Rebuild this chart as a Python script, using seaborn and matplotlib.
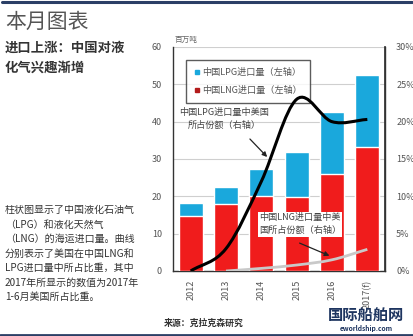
import matplotlib
matplotlib.use("Agg")
import matplotlib.pyplot as plt
import seaborn as sns
import numpy as np
import pandas as pd
from matplotlib.path import Path
from matplotlib.patches import PathPatch, Rectangle
from matplotlib.lines import Line2D
from matplotlib.ticker import PercentFormatter

# ---- data ----
years = ["2012", "2013", "2014", "2015", "2016", "2017(f)"]
lng_import = [14.8, 18.0, 20.0, 19.8, 26.0, 33.3]       # 百万吨
lpg_import = [3.5, 4.5, 7.2, 12.2, 16.5, 19.2]          # 百万吨
us_share_lpg = [0.0, 3.0, 12.0, 23.0, 20.0, 20.3]       # %
us_share_lng = [None, 0.0, 0.35, 0.8, 1.5, 2.9]          # %
left_ticks = [0, 10, 20, 30, 40, 50, 60]
right_ticks = [0, 5, 10, 15, 20, 25, 30]

sns.set_theme(style="white")
plt.rcParams['font.family'] = ['Noto Sans CJK SC', 'DejaVu Sans']

BLUE = "#1aa8dc"
RED = "#f01c1c"
NAVY = "#2b3f66"
GRID = "#cfcfcf"
TXT = "#555555"

W, H = 414, 336
fig = plt.figure(figsize=(W / 100, H / 100), dpi=100)
fig.patch.set_facecolor("white")

def fx(px):
    return px / W

def fy(py):
    return 1 - py / H

ax = fig.add_axes([fx(173), fy(271), fx(385) - fx(173), fy(47) - fy(271)])

df = pd.DataFrame({"year": years, "lng": lng_import, "lpg": lpg_import})
df["total"] = df["lng"] + df["lpg"]

sns.barplot(data=df, x="year", y="total", color=BLUE, saturation=1, width=0.68, ax=ax, zorder=2)
sns.barplot(data=df, x="year", y="lng", color=RED, saturation=1, width=0.68, ax=ax, zorder=3)

ax.set_xlim(-0.5, 5.5)
ax.set_ylim(0, 60)
ax.set_yticks(left_ticks)
ax.set_ylabel("")
ax.set_xlabel("")
ax.yaxis.grid(True, color=GRID, linewidth=0.8, zorder=0)
ax.set_axisbelow(True)
ax.tick_params(axis="y", labelsize=6.5, colors=TXT, length=0, pad=8)
ax.tick_params(axis="x", labelsize=6.5, colors=TXT, length=0, rotation=90, pad=6)
ax.spines["top"].set_visible(False)
for s in ["left", "right", "bottom"]:
    ax.spines[s].set_color("#333333")
    ax.spines[s].set_linewidth(1.0)

ax2 = ax.twinx()
ax2.set_ylim(0, 30)
ax2.set_yticks(right_ticks)
ax2.yaxis.set_major_formatter(PercentFormatter(decimals=0))
ax2.tick_params(axis="y", labelsize=6.5, colors=TXT, length=0, pad=8)
ax2.spines["top"].set_visible(False)
ax2.spines["right"].set_color("#333333")
ax2.spines["left"].set_visible(False)
ax2.spines["bottom"].set_visible(False)
ax2.grid(False)


def smooth_path(xs, ys):
    pts = [(x, y) for x, y in zip(xs, ys) if y is not None]
    n = len(pts)
    P = np.array(pts, dtype=float)
    T = np.zeros_like(P)
    for i in range(n):
        if i == 0:
            T[i] = P[1] - P[0]
        elif i == n - 1:
            T[i] = P[-1] - P[-2]
        else:
            T[i] = (P[i + 1] - P[i - 1]) / 2
    verts = [tuple(P[0])]
    codes = [Path.MOVETO]
    for i in range(n - 1):
        verts += [tuple(P[i] + T[i] / 3), tuple(P[i + 1] - T[i + 1] / 3), tuple(P[i + 1])]
        codes += [Path.CURVE4] * 3
    return Path(verts, codes)

xpos = list(range(len(years)))
ax2.add_patch(PathPatch(smooth_path(xpos, us_share_lng), facecolor="none",
                        edgecolor="#c9c9c9", linewidth=2.0, zorder=4))
ax2.add_patch(PathPatch(smooth_path(xpos, us_share_lpg), facecolor="none",
                        edgecolor="black", linewidth=2.2, zorder=5))

# legend
handles = [
    Line2D([], [], marker="s", linestyle="none", markersize=3.5, color=BLUE),
    Line2D([], [], marker="s", linestyle="none", markersize=3.5, color="#b31b1b"),
]
leg = ax.legend(handles, ["中国LPG进口量（左轴）", "中国LNG进口量（左轴）"],
                loc="upper left", frameon=True,
                fontsize=6.6, handletextpad=0.1, borderpad=0.9, labelspacing=1.0,
                handlelength=0.8, fancybox=False)
leg.set_bbox_to_anchor((fx(181), fy(55)), transform=fig.transFigure)
leg.get_frame().set_edgecolor("#333333")
leg.get_frame().set_linewidth(1.0)
for t in leg.get_texts():
    t.set_color("#555555")
leg.set_zorder(10)

# annotations
ax2.annotate("", xy=(2.22, 15.0), xycoords="data",
             xytext=(fx(248), fy(137)), textcoords="figure fraction",
             arrowprops=dict(arrowstyle="-|>", color="#222222", lw=0.9, mutation_scale=7),
             zorder=9)
fig.text(fx(224), fy(119), "中国LPG进口量中美国\n所占份额（右轴）", ha="center", va="center",
         fontsize=6.6, color="#444444", linespacing=1.5, zorder=9)

fig.patches.append(Rectangle((fx(258), fy(237)), fx(342) - fx(258), fy(212) - fy(237),
                             transform=fig.transFigure, facecolor="white", edgecolor="none",
                             zorder=8))
fig.text(fx(300), fy(224), "中国LNG进口量中美\n国所占份额（右轴）", ha="center", va="center",
         fontsize=6.6, color="#444444", linespacing=1.5, zorder=9)
ax2.annotate("", xy=(4.0, 1.9), xycoords="data",
             xytext=(fx(297), fy(242)), textcoords="figure fraction",
             arrowprops=dict(arrowstyle="-|>", color="#222222", lw=0.9, mutation_scale=7),
             zorder=9)

fig.text(fx(175), fy(40), "百万吨", ha="left", va="center", fontsize=5.5, color="#666666")

# header / text blocks
fig.add_artist(Line2D([fx(2), fx(412)], [fy(1.5), fy(1.5)], color=NAVY, linewidth=2.2))
fig.add_artist(Line2D([0, 1], [fy(334.5), fy(334.5)], color=NAVY, linewidth=2.0))

fig.text(fx(5), fy(22), "本月图表", ha="left", va="center", fontsize=15, color="#555555")
fig.text(fx(5), fy(48), "进口上涨：中国对液", ha="left", va="center", fontsize=9.6,
         color="#333333", fontweight="bold")
fig.text(fx(5), fy(68), "化气兴趣渐增", ha="left", va="center", fontsize=9.6,
         color="#333333", fontweight="bold")

para = ["柱状图显示了中国液化石油气", "（LPG）和液化天然气", "（LNG）的海运进口量。曲线",
        "分别表示了美国在中国LNG和", "LPG进口量中所占比重，其中", "2017年所显示的数值为2017年",
        "1-6月美国所占比重。"]
for i, line in enumerate(para):
    fig.text(fx(5), fy(210 + i * 14.5), line, ha="left", va="center", fontsize=7.2, color="#333333")

fig.text(fx(164), fy(323), "来源：克拉克森研究", ha="left", va="center", fontsize=6.4,
         color="#333333", fontweight="bold")
fig.text(fx(366), fy(316), "国际船舶网", ha="center", va="center", fontsize=11,
         color="#1e3560", fontweight="bold")
fig.text(fx(366), fy(329), "eworldship.com", ha="center", va="center", fontsize=4.8,
         color="#1e3560", fontweight="bold")

fig.savefig("out.png", dpi=100, facecolor="white")
